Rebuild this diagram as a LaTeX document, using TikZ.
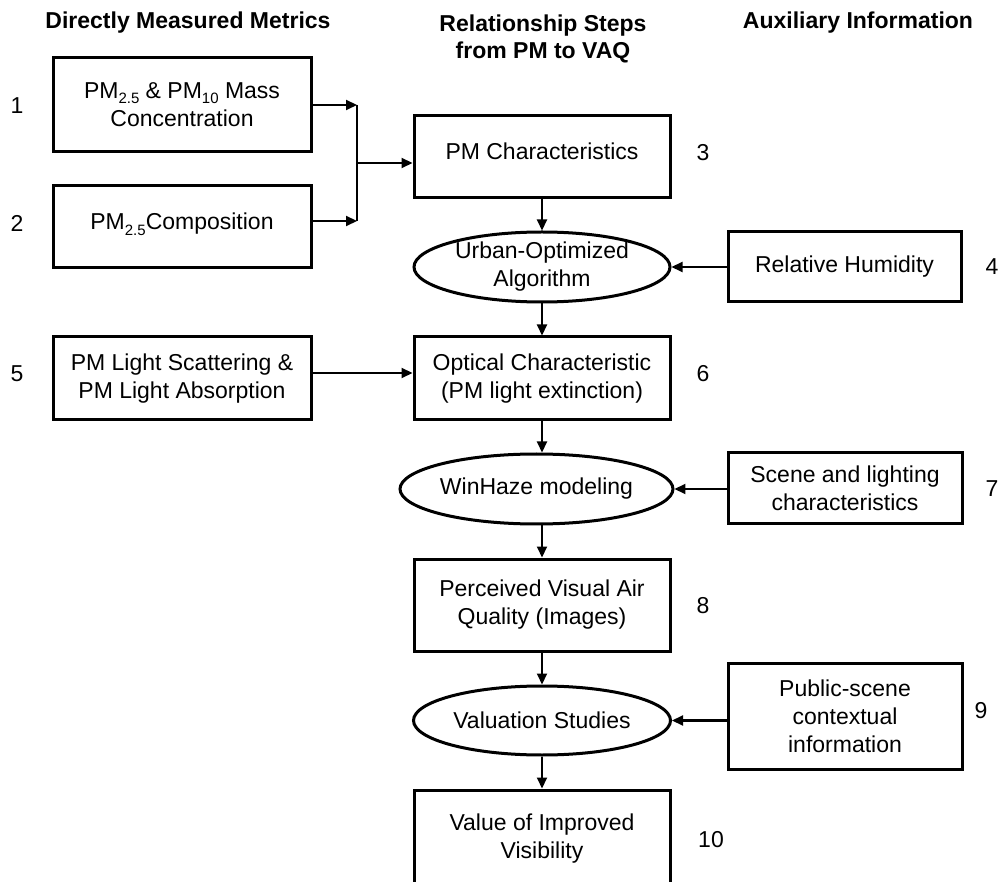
\documentclass[tikz,border=0pt]{standalone}
\usepackage{fontspec}
\setmainfont{Liberation Sans}
\usetikzlibrary{arrows.meta,shapes.geometric}
\newcommand\bodyfont{\fontsize{23}{28}\selectfont}
\newcommand\sbs[1]{\raisebox{-0.22em}{\fontsize{15}{15}\selectfont #1}}
\tikzset{
  box/.style={draw, rectangle, line width=3pt, inner sep=0pt, align=center, font=\bodyfont},
  oval/.style={draw, ellipse, line width=3pt, inner sep=0pt, align=center, font=\bodyfont},
  num/.style={inner sep=0pt, font=\bodyfont},
  hdr/.style={inner sep=0pt, align=center, font=\bfseries\fontsize{23}{27}\selectfont},
  arr/.style={line width=2.1pt, -{Triangle[length=11pt,width=10pt]}},
  ln/.style={line width=1.8pt}
}
\begin{document}
\begin{tikzpicture}[x=1pt,y=-1pt]
\clip (0,0) rectangle (1002,882);
% headers
\node[hdr] (h1) at (188,23) {Directly Measured Metrics};
\node[hdr] (h2) at (543,39) {Relationship Steps\\from PM to VAQ};
\node[hdr] (h3) at (858,23) {Auxiliary Information};
% left column
\node[box, minimum width=258pt, minimum height=94pt] (b1) at (182,105) {PM\sbs{2.5} \& PM\sbs{10} Mass\\Concentration};
\node[box, minimum width=258pt, minimum height=82pt] (b2) at (182,227) {\smash{\raisebox{-3pt}{PM\sbs{2.5}Composition}}};
\node[box, minimum width=258pt, minimum height=83pt] (b5) at (182,378.5) {PM Light Scattering \&\\PM Light Absorption};
% middle column
\node[box, minimum width=256pt, minimum height=82pt] (b3) at (542,157) {\smash{\raisebox{-3pt}{PM Characteristics}}};
\node[oval, minimum width=256pt, minimum height=70pt] (urb) at (542,267) {Urban-Optimized\\Algorithm};
\node[box, minimum width=256pt, minimum height=83pt] (b6) at (542,378.5) {Optical Characteristic\\(PM light extinction)};
\node[oval, minimum width=269pt, minimum height=70pt] (win) at (536.5,489) {WinHaze modeling};
\node[box, minimum width=256pt, minimum height=92pt] (b8) at (542,605) {Perceived Visual Air\\Quality (Images)};
\node[oval, minimum width=257pt, minimum height=69pt] (val) at (542,720.5) {Valuation Studies};
\node[box, minimum width=256pt, minimum height=98pt] (b10) at (542,839) {Value of Improved\\Visibility};
% right column
\node[box, minimum width=233pt, minimum height=70pt] (b4) at (844.5,267) {Relative Humidity};
\node[box, minimum width=234pt, minimum height=71pt] (b7) at (845,488.5) {Scene and lighting\\characteristics};
\node[box, minimum width=234pt, minimum height=106pt] (b9) at (845,716) {Public-scene\\contextual\\information};
% numbers
\node[num] (n1) at (17,106) {1};
\node[num] (n2) at (17,223) {2};
\node[num] (n3) at (703,153) {3};
\node[num] (n4) at (992,267) {4};
\node[num] (n5) at (17,374) {5};
\node[num] (n6) at (703,374) {6};
\node[num] (n7) at (992,489) {7};
\node[num] (n8) at (703,606) {8};
\node[num] (n9) at (981,711) {9};
\node[num] (n10) at (711,840) {10};
% junction
\coordinate (j1) at (357,105);
\coordinate (j2) at (357,221);
\coordinate (jm) at (357,163);
\draw[arr] (b1.east |- j1) -- (j1);
\draw[arr] (b2.east |- j2) -- (j2);
\draw[ln] (j1) -- (j2);
\draw[arr] (jm) -- (jm -| b3.west);
% vertical chain
\draw[arr] (b3.south) -- (urb.north);
\draw[arr] (urb.south) -- (b6.north);
\draw[arr] (b6.south) -- (b6.south |- win.north);
\draw[arr] (b8.north |- win.south) -- (b8.north);
\draw[arr] (b8.south) -- (val.north);
\draw[arr] (val.south) -- (b10.north);
% side inputs
\draw[arr] (b4.west) -- (urb.east);
\draw[arr] ([yshift=5.5pt]b5.east) -- ([yshift=5.5pt]b6.west);
\draw[arr] (b7.west |- win.east) -- (win.east);
\draw[arr] (b9.west |- val.east) -- (val.east);
\end{tikzpicture}
\end{document}
